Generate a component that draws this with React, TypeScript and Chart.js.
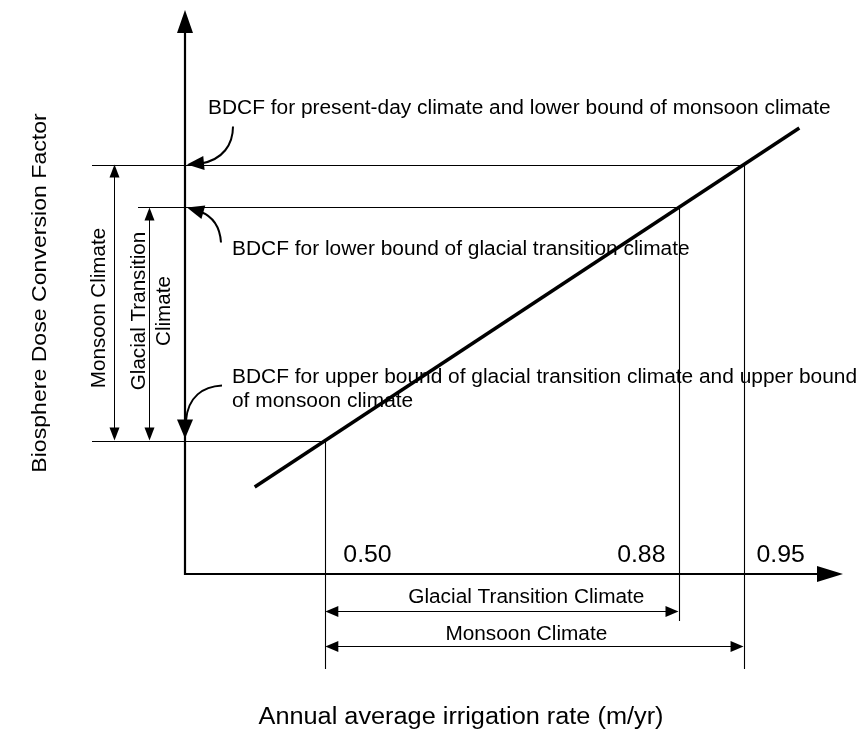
import React, { useEffect, useRef } from "react";
import { Chart, registerables } from "chart.js";

Chart.register(...registerables);

// ---- data (schematic BDCF units) ----
const irrigationTicks = [0.5, 0.88, 0.95];
const tickLabels = ["0.50", "0.88", "0.95"];
// BDCF where the line meets each tick: upper bound (0.50), glacial lower bound (0.88), present-day (0.95)
const bdcfLevels = [2.67, 7.33, 8.19];
const lineIrrigation = [0.424, 1.01];
const lineBdcf = [1.74, 8.92];
const annotationTexts = [
  "BDCF for present-day climate and lower bound of monsoon climate",
  "BDCF for lower bound of glacial transition climate",
  "BDCF for upper bound of glacial transition climate and upper bound",
  "of monsoon climate",
];
const rangeLabels = ["Glacial Transition Climate", "Monsoon Climate"];
const verticalRangeLabels = ["Monsoon Climate", "Glacial Transition", "Climate"];
const xTitle = "Annual average irrigation rate (m/yr)";
const yTitle = "Biosphere Dose Conversion Factor";

const FONT = '"Liberation Sans", Arial, Helvetica, sans-serif';
const INK = "#000";

function head(ctx: CanvasRenderingContext2D, tx: number, ty: number, dx: number, dy: number, len: number, hw: number) {
  const n = Math.hypot(dx, dy);
  const ux = dx / n, uy = dy / n;
  const bx = tx - ux * len, by = ty - uy * len;
  ctx.beginPath();
  ctx.moveTo(tx, ty);
  ctx.lineTo(bx - uy * hw, by + ux * hw);
  ctx.lineTo(bx + uy * hw, by - ux * hw);
  ctx.closePath();
  ctx.fill();
}

function seg(ctx: CanvasRenderingContext2D, x1: number, y1: number, x2: number, y2: number, w: number) {
  ctx.lineWidth = w;
  ctx.beginPath();
  ctx.moveTo(x1, y1);
  ctx.lineTo(x2, y2);
  ctx.stroke();
}

function text(
  ctx: CanvasRenderingContext2D,
  str: string,
  x: number,
  y: number,
  size: number,
  align: CanvasTextAlign,
  sx: number,
  rotate = false,
  baseline: CanvasTextBaseline = "alphabetic"
) {
  ctx.save();
  ctx.translate(x, y);
  if (rotate) ctx.rotate(-Math.PI / 2);
  ctx.scale(sx, 1);
  ctx.font = `${size}px ${FONT}`;
  ctx.textAlign = align;
  ctx.textBaseline = baseline;
  ctx.fillText(str, 0, 0);
  ctx.restore();
}

const h = (v: number) => Math.round(v) + 0.5;

const schematicPlugin = {
  id: "schematic",
  afterDatasetsDraw(chart: any) {
    const ctx: CanvasRenderingContext2D = chart.ctx;
    const xs = chart.scales.x;
    const ys = chart.scales.y;
    const X0 = xs.getPixelForValue(xs.min);
    const XR = xs.getPixelForValue(xs.max);
    const Y0 = ys.getPixelForValue(ys.min);
    const YT = ys.getPixelForValue(ys.max);
    const tx = irrigationTicks.map((v) => xs.getPixelForValue(v));
    const ly = bdcfLevels.map((v) => ys.getPixelForValue(v));

    ctx.save();
    ctx.strokeStyle = INK;
    ctx.fillStyle = INK;

    // axes
    seg(ctx, X0, YT + 18, X0, Y0 + 1, 2.2);
    head(ctx, X0, YT, 0, -1, 23, 8);
    seg(ctx, X0 - 1, Y0, XR - 20, Y0, 2.2);
    head(ctx, XR, Y0, 1, 0, 26, 8);

    // horizontal reference levels
    seg(ctx, X0 - 93, h(ly[2]), tx[2], h(ly[2]), 1.1);
    seg(ctx, X0 - 47, h(ly[1]), tx[1], h(ly[1]), 1.1);
    seg(ctx, X0 - 93, h(ly[0]), tx[0], h(ly[0]), 1.1);

    // vertical tick lines
    seg(ctx, h(tx[0]), ly[0], h(tx[0]), Y0 + 95, 1.1);
    seg(ctx, h(tx[1]), ly[1], h(tx[1]), Y0 + 47, 1.1);
    seg(ctx, h(tx[2]), ly[2], h(tx[2]), Y0 + 95, 1.1);

    // left vertical range arrows
    const dimV = (x: number, yA: number, yB: number) => {
      seg(ctx, h(x), yA + 10, h(x), yB - 10, 1);
      head(ctx, h(x), yA, 0, -1, 13, 5);
      head(ctx, h(x), yB, 0, 1, 13, 5);
    };
    dimV(X0 - 71, ly[2], ly[0]);
    dimV(X0 - 36, ly[1], ly[0]);

    // bottom horizontal range arrows
    const dimH = (y: number, xA: number, xB: number) => {
      seg(ctx, xA + 10, h(y), xB - 10, h(y), 1);
      head(ctx, xA, h(y), -1, 0, 13, 5.5);
      head(ctx, xB, h(y), 1, 0, 13, 5.5);
    };
    dimH(Y0 + 37, tx[0], tx[1]);
    dimH(Y0 + 72, tx[0], tx[2]);

    // curved pointer arrows
    ctx.lineWidth = 2;
    ctx.beginPath();
    ctx.moveTo(X0 + 48, ly[2] - 38);
    ctx.bezierCurveTo(X0 + 48, ly[2] - 20, X0 + 38, ly[2] - 5, X0 + 16, ly[2] - 1);
    ctx.stroke();
    head(ctx, X0 + 2, ly[2], -16, 1.5, 17, 7);

    ctx.beginPath();
    ctx.moveTo(X0 + 36, ly[1] + 35);
    ctx.bezierCurveTo(X0 + 35, ly[1] + 19, X0 + 28, ly[1] + 9, X0 + 15, ly[1] + 4);
    ctx.stroke();
    head(ctx, X0 + 2, ly[1], -14, -4, 17, 7);

    ctx.beginPath();
    ctx.moveTo(X0 + 37, ly[0] - 55);
    ctx.bezierCurveTo(X0 + 18, ly[0] - 54, X0 + 3, ly[0] - 44, X0 + 1, ly[0] - 20);
    ctx.stroke();
    head(ctx, X0, ly[0] - 2, 0, 1, 19, 8);

    // tick labels
    text(ctx, tickLabels[0], tx[0] + 18, Y0 - 12, 23, "left", 1.08);
    text(ctx, tickLabels[1], tx[1] - 13, Y0 - 12, 23, "right", 1.08);
    text(ctx, tickLabels[2], tx[2] + 13, Y0 - 12, 23, "left", 1.08);

    // range labels below the axis
    text(ctx, rangeLabels[0], tx[0] + 201, Y0 + 29, 20, "center", 1.04);
    text(ctx, rangeLabels[1], tx[0] + 201, Y0 + 66, 20, "center", 1.04);

    // annotations
    text(ctx, annotationTexts[0], X0 + 23, ly[2] - 51, 20, "left", 1.045);
    text(ctx, annotationTexts[1], X0 + 47, ly[1] + 47, 20, "left", 1.045);
    text(ctx, annotationTexts[2], X0 + 47, ly[0] - 58, 20, "left", 1.045);
    text(ctx, annotationTexts[3], X0 + 47, ly[0] - 34, 20, "left", 1.045);

    // rotated range labels on the left
    text(ctx, verticalRangeLabels[0], X0 - 86, 308, 20, "center", 1.03, true, "middle");
    text(ctx, verticalRangeLabels[1], X0 - 46, 311, 20, "center", 1.03, true, "middle");
    text(ctx, verticalRangeLabels[2], X0 - 21, 311, 20, "center", 1.03, true, "middle");

    // axis titles
    text(ctx, yTitle, 40, 293, 21, "center", 1.1, true, "middle");
    text(ctx, xTitle, 461, 724, 23, "center", 1.1);

    ctx.restore();
  },
};

export default function App() {
  const ref = useRef<HTMLCanvasElement | null>(null);
  useEffect(() => {
    if (!ref.current) return;
    const chart = new Chart(ref.current, {
      type: "line",
      data: {
        datasets: [
          {
            label: "BDCF",
            data: lineIrrigation.map((x, i) => ({ x, y: lineBdcf[i] })),
            borderColor: INK,
            borderWidth: 3.5,
            pointRadius: 0,
            fill: false,
            tension: 0,
          },
        ],
      },
      options: {
        responsive: false,
        animation: false,
        devicePixelRatio: 1,
        layout: { padding: { left: 185, right: 16, top: 10, bottom: 156 } },
        scales: {
          x: { type: "linear", min: 0.349, max: 1.057, display: false },
          y: { type: "linear", min: 0, max: 11.28, display: false },
        },
        plugins: { legend: { display: false }, tooltip: { enabled: false } },
      },
      plugins: [schematicPlugin],
    });
    return () => chart.destroy();
  }, []);
  return (
    <div style={{ position: "fixed", left: 0, top: 0, width: 859, height: 730, background: "#fff" }}>
      <canvas ref={ref} width={859} height={730} style={{ display: "block" }} />
    </div>
  );
}
